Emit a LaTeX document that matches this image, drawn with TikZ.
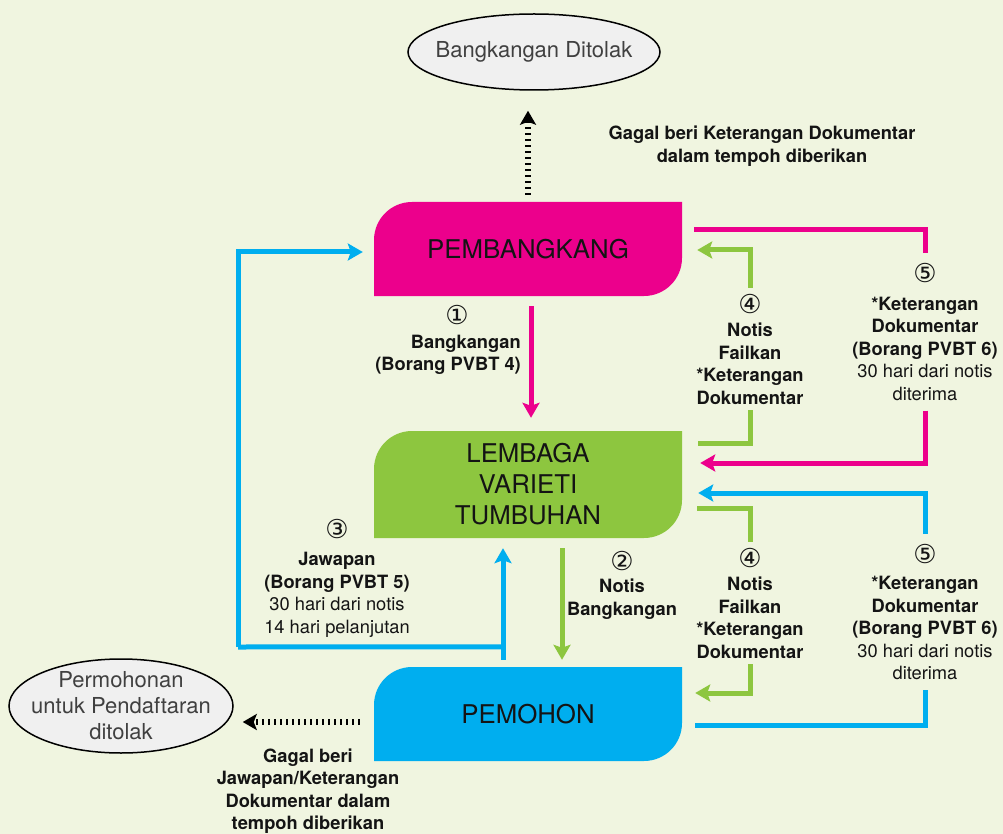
\documentclass[tikz,border=0pt]{standalone}
\usepackage{fontspec}
\setmainfont{TeX Gyre Heros}
\newfontfamily\circfont{DejaVu Sans}
\usetikzlibrary{positioning, shapes.geometric, arrows.meta, calc}
\definecolor{bgc}{RGB}{240,245,224}
\definecolor{pinkc}{RGB}{236,0,140}
\definecolor{greenc}{RGB}{141,198,63}
\definecolor{bluec}{RGB}{0,174,239}
\definecolor{ovalc}{RGB}{240,240,240}
\definecolor{txtc}{RGB}{20,20,20}
\newcommand{\cnum}[1]{{\circfont\fontsize{26}{26}\selectfont #1}}

\tikzset{
  blob/.style={minimum width=308pt, inner sep=0pt, align=center, fill=bgc,
    font=\fontsize{25.8}{31}\selectfont, text=txtc,
    path picture={\fill[#1] ([yshift=-38pt]path picture bounding box.north west)
      arc[start angle=180, end angle=90, radius=38pt]
      -- (path picture bounding box.north east)
      -- ([yshift=38pt]path picture bounding box.south east)
      arc[start angle=0, end angle=-90, radius=38pt]
      -- (path picture bounding box.south west) -- cycle;}},
  oval/.style={ellipse, draw=black, line width=1.5pt, fill=ovalc,
    align=center, text=black!75, font=\fontsize{22}{26}\selectfont},
  lbl/.style={align=center, text=txtc, inner sep=6pt, font=\fontsize{18.3}{22.5}\selectfont},
  flow/.style={line width=5pt, draw=#1},
  flowarr/.style={line width=5pt, draw=#1, -{Stealth[length=15pt, width=17pt, inset=3pt]}},
  failarr/.style={line width=6pt, dash pattern=on 2pt off 4pt,
    -{Stealth[length=14pt, width=16pt, inset=3pt]}},
}

\begin{document}
\begin{tikzpicture}[x=1pt, y=-1pt]
\fill[bgc] (0,0) rectangle (1003,834);
\useasboundingbox (0,0) rectangle (1003,834);

% main parties
\node[blob=pinkc, minimum height=94pt] (pb) at (528,249) {PEMBANGKANG};
\node[blob=greenc, minimum height=107pt] (lv) at (528,484.5) {LEMBAGA\\VARIETI\\TUMBUHAN};
\node[blob=bluec, minimum height=94pt] (pm) at (528,714) {PEMOHON};

% rejected outcomes
\node[oval, inner xsep=-11pt, inner ysep=0pt, minimum width=252pt, minimum height=76pt] (bd) at (534,52) {Bangkangan Ditolak};
\node[oval, inner xsep=-13pt, inner ysep=-7pt, minimum width=224pt, minimum height=94pt] (pr) at (121,706) {Permohonan\\untuk Pendaftaran\\ditolak};

% step labels
\node[lbl, align=right, anchor=east] (n1) at (527,340) {\cnum{①}\hspace*{52pt}\\[1pt]\textbf{Bangkangan}\\\textbf{(Borang PVBT 4)}};
\node[lbl] (n2) at (622,585) {\cnum{②}\\[0pt]\textbf{Notis}\\\textbf{Bangkangan}};
\node[lbl] (n3) at (337,578) {\cnum{③}\\[5pt]\textbf{Jawapan}\\\textbf{(Borang PVBT 5)}\\30 hari dari notis\\14 hari pelanjutan};
\node[lbl] (n4a) at (750,349) {\cnum{④}\\[1pt]\textbf{Notis}\\\textbf{Failkan}\\\textbf{*Keterangan}\\\textbf{Dokumentar}};
\node[lbl] (n4b) at (750,603) {\cnum{④}\\[1pt]\textbf{Notis}\\\textbf{Failkan}\\\textbf{*Keterangan}\\\textbf{Dokumentar}};
\node[lbl, inner sep=10pt] (n5a) at (925,332) {\cnum{⑤}\\[5pt]\textbf{*Keterangan}\\\textbf{Dokumentar}\\\textbf{(Borang PVBT 6)}\\30 hari dari notis\\diterima};
\node[lbl, inner sep=10pt] (n5b) at (925,612) {\cnum{⑤}\\[4pt]\textbf{*Keterangan}\\\textbf{Dokumentar}\\\textbf{(Borang PVBT 6)}\\30 hari dari notis\\diterima};
\node[lbl, font=\fontsize{18.3}{22.5}\selectfont\bfseries] (g1) at (762,146) {Gagal beri Keterangan Dokumentar\\dalam tempoh diberikan};
\node[lbl, font=\fontsize{18.3}{22.5}\selectfont\bfseries] (g2) at (308,791) {Gagal beri\\Jawapan/Keterangan\\Dokumentar dalam\\tempoh diberikan};

% main flow
\draw[flowarr=pinkc] ([xshift=3pt, yshift=-10pt]pb.south) -- ([xshift=3pt, yshift=13pt]lv.north);
\draw[flowarr=greenc] ([xshift=34pt, yshift=-10pt]lv.south) -- ([xshift=34pt, yshift=7pt]pm.north);
\draw[flowarr=bluec] ([xshift=-25pt, yshift=7pt]pm.north) -- ([xshift=-25pt, yshift=-10pt]lv.south);
\coordinate (j3) at ([xshift=-25pt, yshift=20pt]pm.north);
\coordinate (k3) at (238,647);
\draw[flow=bluec] (j3) -- (k3);
\draw[flowarr=bluec] (k3) |- ([xshift=-11pt, yshift=-3pt]pb.west);

% documentary evidence loops
\draw[flow=pinkc] ([shift={(12pt,19pt)}]pb.east) -| (n5a.north);
\draw[flowarr=pinkc] (n5a.south) |- ([shift={(18pt,21.5pt)}]lv.east);
\draw[flow=greenc] ([shift={(16pt,41.5pt)}]lv.east) -| (n4a.south);
\draw[flowarr=greenc] (n4a.north) |- ([shift={(15pt,-1pt)}]pb.east);
\draw[flow=greenc] ([shift={(15pt,-23.5pt)}]lv.east) -| (n4b.north);
\draw[flowarr=greenc] (n4b.south) |- ([shift={(13pt,21pt)}]pm.east);
\draw[flowarr=bluec] (n5b.north) |- ([shift={(16pt,-8.5pt)}]lv.east);
\draw[flow=bluec] ([shift={(13pt,-11pt)}]pm.east) -| (n5b.south);

% failures
\draw[failarr] ([yshift=7pt]pb.north) -- ([yshift=-20pt]pb.north |- bd.south);
\draw[failarr] ([shift={(-14pt,-8pt)}]pm.west) -- ([shift={(9pt,-16pt)}]pr.east);
\end{tikzpicture}
\end{document}
